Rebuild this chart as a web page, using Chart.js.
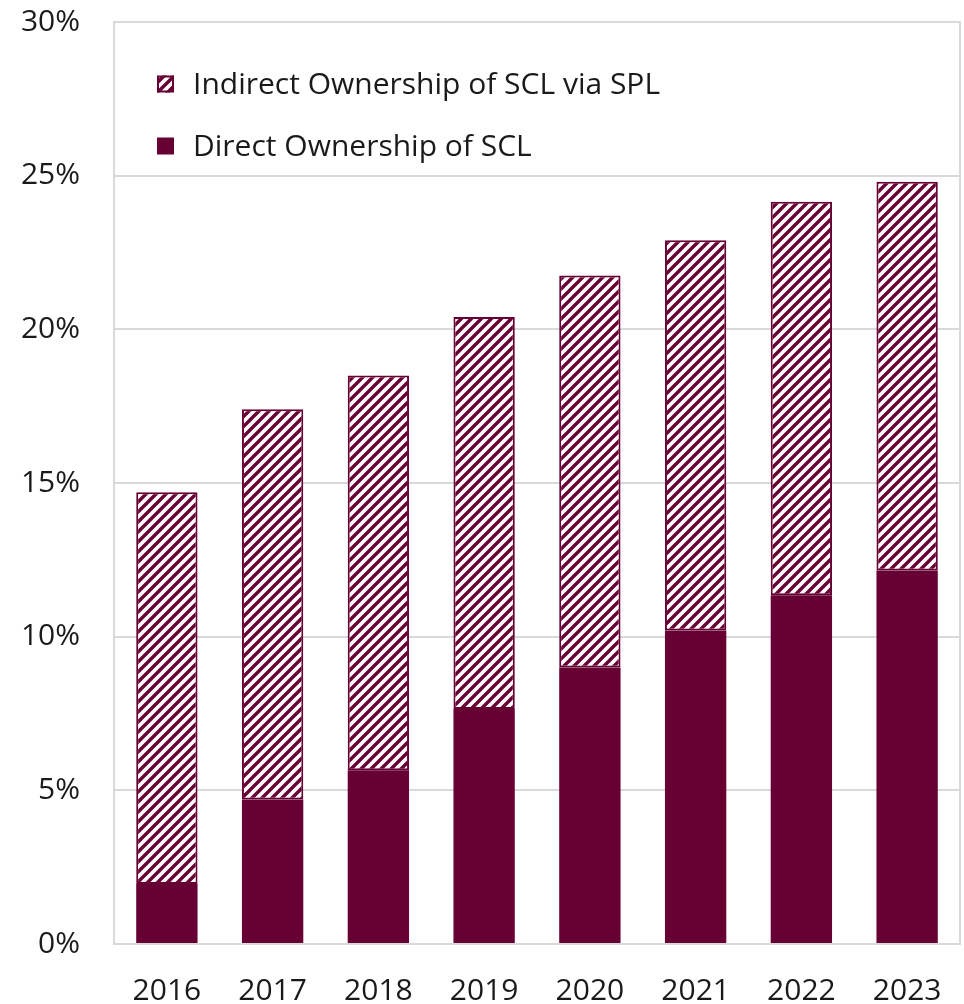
<!DOCTYPE html>
<html>
<head>
<meta charset="UTF-8">
<style>
  html, body { margin: 0; padding: 0; background: #fff; }
  #wrap { width: 964px; height: 1004px; }
</style>
</head>
<body>
<div id="wrap"><canvas id="chart" width="964" height="1004"></canvas></div>
<script src="https://cdn.jsdelivr.net/npm/chart.js@4.4.0/dist/chart.umd.min.js"></script>
<script>
  const years = ['2016', '2017', '2018', '2019', '2020', '2021', '2022', '2023']
  const directOwnership = [1.95, 4.7, 5.65, 7.65, 9.0, 10.2, 11.35, 12.15]
  const indirectOwnership = [12.75, 12.7, 12.85, 12.75, 12.75, 12.7, 12.8, 12.65]
  const yTicks = [0, 5, 10, 15, 20, 25, 30]

  const maroon = '#670033'
  const gridGrey = '#d9d9d9'
  const textColor = '#1a1a1a'
  const fontFamily = '"Open Sans", "Noto Sans", sans-serif'

  // diagonal hatch like Excel's wide upward diagonal
  function makeHatch() {
    const s = 10
    const c = document.createElement('canvas')
    c.width = s
    c.height = s
    const g = c.getContext('2d')
    g.fillStyle = '#fff'
    g.fillRect(0, 0, s, s)
    g.strokeStyle = maroon
    g.lineWidth = 3.4
    g.lineCap = 'square'
    g.beginPath()
    g.moveTo(0, s); g.lineTo(s, 0)
    g.moveTo(-1, 1); g.lineTo(1, -1)
    g.moveTo(s - 1, s + 1); g.lineTo(s + 1, s - 1)
    g.stroke()
    return g.createPattern(c, 'repeat')
  }
  const hatch = makeHatch()

  // legend drawn inside the plot area, top-left
  const innerLegend = {
    id: 'innerLegend',
    afterDraw(chart) {
      const ctx = chart.ctx
      const items = chart.data.datasets.slice().reverse()
      const x0 = 157, y0 = 84, gap = 62, box = 17
      ctx.save()
      ctx.font = '30px ' + fontFamily
      ctx.textBaseline = 'middle'
      items.forEach((ds, i) => {
        const y = y0 + i * gap
        ctx.fillStyle = ds.backgroundColor
        ctx.fillRect(x0, y - box / 2, box, box)
        if (ds.borderWidth) {
          ctx.strokeStyle = ds.borderColor
          ctx.lineWidth = 2
          ctx.strokeRect(x0 + 1, y - box / 2 + 1, box - 2, box - 2)
        }
        ctx.fillStyle = textColor
        ctx.fillText(ds.label, 193, y + 1)
      })
      ctx.restore()
    }
  }

  const ctx = document.getElementById('chart').getContext('2d')
  const chart = new Chart(ctx, {
    type: 'bar',
    data: {
      labels: years,
      datasets: [{
        label: 'Direct Ownership of SCL',
        data: directOwnership,
        backgroundColor: maroon,
        borderWidth: 0
      }, {
        label: 'Indirect Ownership of SCL via SPL',
        data: indirectOwnership,
        backgroundColor: hatch,
        borderColor: maroon,
        borderWidth: 2,
        borderSkipped: false
      }]
    },
    options: {
      responsive: false,
      animation: false,
      layout: { padding: { left: 21, right: 4, top: 22, bottom: 0 } },
      datasets: { bar: { barPercentage: 0.58, categoryPercentage: 1 } },
      plugins: {
        legend: { display: false },
        tooltip: { enabled: false }
      },
      scales: {
        x: {
          stacked: true,
          afterFit(axis) { axis.height = 60; axis.paddingLeft = 0; axis.paddingRight = 0 },
          grid: { display: false },
          border: { display: true, color: gridGrey, width: 2 },
          ticks: { color: textColor, font: { family: fontFamily, size: 30, lineHeight: 1 }, padding: 24, maxRotation: 0 }
        },
        y: {
          stacked: true,
          min: 0,
          max: 30,
          afterBuildTicks(axis) { axis.ticks = yTicks.map(v => ({ value: v })) },
          afterFit(axis) { axis.width = 93; axis.paddingTop = 0; axis.paddingBottom = 0 },
          grid: { color: gridGrey, lineWidth: 2, drawTicks: false },
          border: { display: true, color: gridGrey, width: 2 },
          ticks: {
            color: textColor,
            font: { family: fontFamily, size: 30, lineHeight: 1 },
            padding: 34,
            callback: v => v + '%'
          }
        },
        yRight: {
          position: 'right',
          min: 0,
          max: 30,
          afterFit(axis) { axis.paddingTop = 0; axis.paddingBottom = 0 },
          grid: { display: false, drawTicks: false },
          border: { display: true, color: gridGrey, width: 2 },
          ticks: { display: false }
        }
      }
    },
    plugins: [innerLegend]
  })
</script>
</body>
</html>
